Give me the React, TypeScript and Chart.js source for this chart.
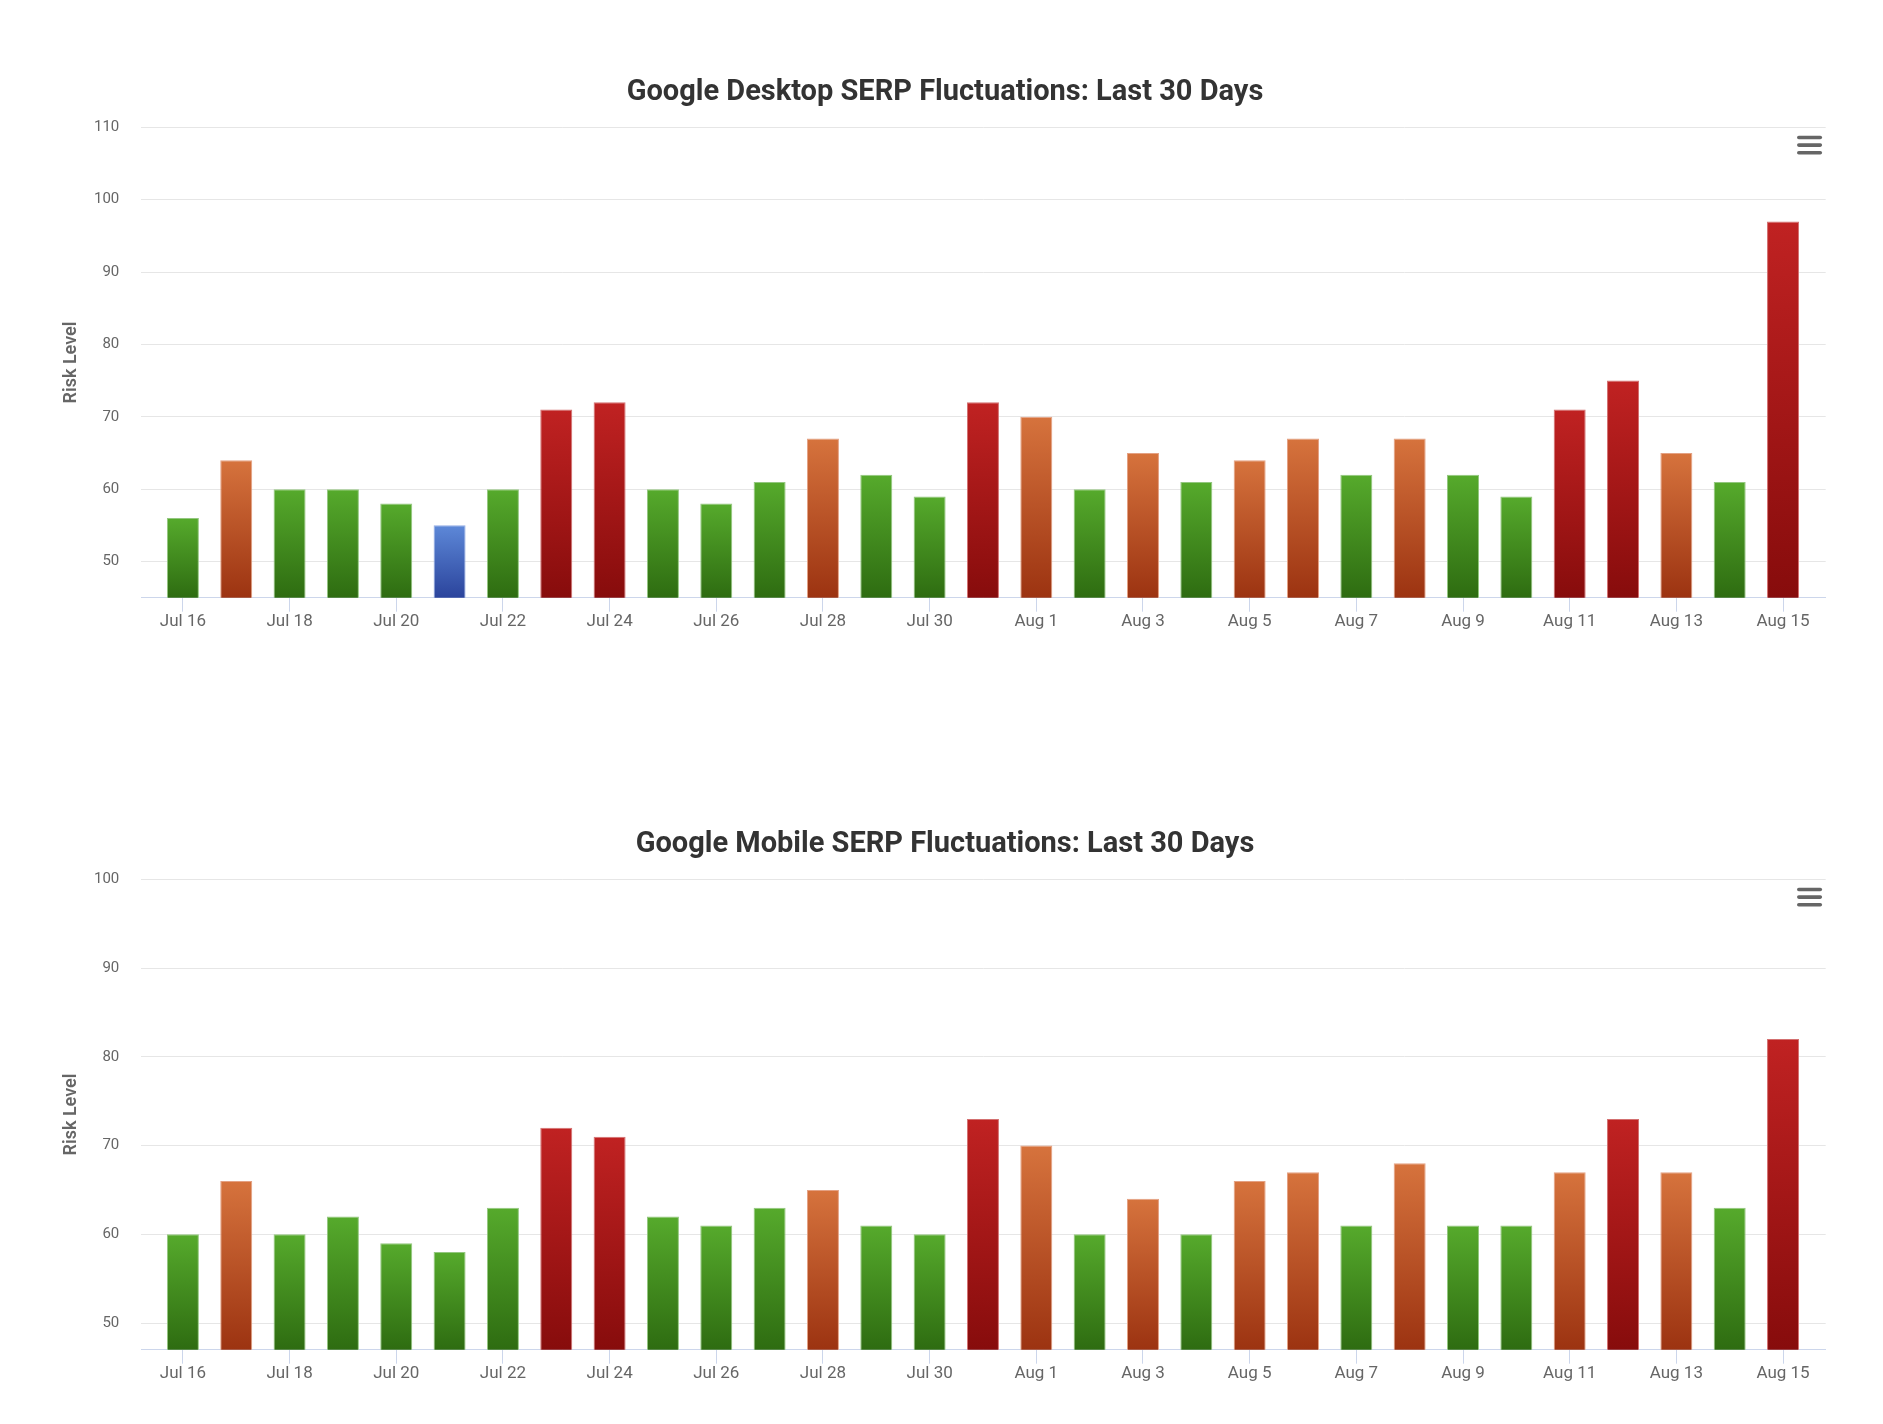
import React, { useEffect, useRef } from 'react';
import { Chart, registerables } from 'chart.js';

Chart.register(...registerables);

// ---------- data ----------
const dates = [
  'Jul 16', 'Jul 17', 'Jul 18', 'Jul 19', 'Jul 20', 'Jul 21', 'Jul 22', 'Jul 23',
  'Jul 24', 'Jul 25', 'Jul 26', 'Jul 27', 'Jul 28', 'Jul 29', 'Jul 30', 'Jul 31',
  'Aug 1', 'Aug 2', 'Aug 3', 'Aug 4', 'Aug 5', 'Aug 6', 'Aug 7', 'Aug 8',
  'Aug 9', 'Aug 10', 'Aug 11', 'Aug 12', 'Aug 13', 'Aug 14', 'Aug 15',
];

const desktopRisk = [
  56, 64, 60, 60, 58, 55, 60, 71, 72, 60, 58, 61, 67, 62, 59, 72,
  70, 60, 65, 61, 64, 67, 62, 67, 62, 59, 71, 75, 65, 61, 97,
];

const mobileRisk = [
  60, 66, 60, 62, 59, 58, 63, 72, 71, 62, 61, 63, 65, 61, 60, 73,
  70, 60, 64, 60, 66, 67, 61, 68, 61, 61, 67, 73, 67, 63, 82,
];

const desktopTitle = 'Google Desktop SERP Fluctuations: Last 30 Days';
const mobileTitle = 'Google Mobile SERP Fluctuations: Last 30 Days';
const yAxisTitle = 'Risk Level';

const desktopYRange = [45, 110];
const mobileYRange = [47, 100];

// ---------- style ----------
const FONT = 'Roboto, "Open Sans", sans-serif';

type Pal = { top: string; bottom: string; border: string };
const PALETTE: Record<string, Pal> = {
  blue: { top: '#5d88d8', bottom: '#2b449c', border: '#94ade4' },
  green: { top: '#56aa2c', bottom: '#2e6c11', border: '#93c77f' },
  orange: { top: '#d6733d', bottom: '#9c3311', border: '#e4a183' },
  red: { top: '#c02222', bottom: '#870c0c', border: '#d37070' },
};

function levelOf(v: number): string {
  if (v <= 55) return 'blue';
  if (v <= 63) return 'green';
  if (v <= 70) return 'orange';
  return 'red';
}

const PLOT_TOP = 127.3;
const PLOT_BOTTOM = 597.7;
const PLOT_LEFT = 141.3;
const PAD_LEFT = 7;
const PLOT_RIGHT_PAD = 57.3;
const TITLE_SIZE = 29;
const TITLE_CENTER = 92.5;

const menuIcon = {
  id: 'menuIcon',
  afterDraw(chart: any) {
    const { ctx, chartArea } = chart;
    if (!chartArea) return;
    ctx.save();
    ctx.strokeStyle = '#666666';
    ctx.lineWidth = 3.6;
    ctx.lineCap = 'round';
    const x0 = chartArea.right - 26.9;
    const x1 = chartArea.right - 5.4;
    [10.2, 17.8, 25.4].forEach((dy) => {
      ctx.beginPath();
      ctx.moveTo(x0, chartArea.top + dy);
      ctx.lineTo(x1, chartArea.top + dy);
      ctx.stroke();
    });
    ctx.restore();
  },
};

function RiskChart(props: { title: string; values: number[]; yRange: number[]; height: number }) {
  const { title, values, yRange, height } = props;
  const ref = useRef<HTMLCanvasElement | null>(null);

  useEffect(() => {
    const canvas = ref.current;
    if (!canvas) return;
    const titleLine = TITLE_SIZE * 1.2;
    const titleTopPad = TITLE_CENTER - titleLine / 2;
    const chart = new Chart(canvas, {
      type: 'bar',
      data: {
        datasets: [
          {
            data: values.map((v, i) => ({ x: i, y: v })),
            backgroundColor: (c: any) => {
              const v = values[c.dataIndex] ?? 60;
              const pal = PALETTE[levelOf(v)];
              const area = c.chart.chartArea;
              if (!area || c.type !== 'data') return pal.top;
              const yTop = c.chart.scales.y.getPixelForValue(v);
              const g = c.chart.ctx.createLinearGradient(0, yTop, 0, area.bottom);
              g.addColorStop(0, pal.top);
              g.addColorStop(1, pal.bottom);
              return g;
            },
            borderColor: (c: any) => {
              const v = values[c.dataIndex] ?? 60;
              return PALETTE[levelOf(v)].border;
            },
            borderWidth: { top: 1, left: 1, right: 1, bottom: 0 },
            borderSkipped: 'start',
            categoryPercentage: 1,
            barPercentage: 0.6,
          } as any,
        ],
      },
      options: {
        animation: false,
        responsive: true,
        maintainAspectRatio: false,
        layout: { padding: { left: PAD_LEFT, right: 0, top: 0, bottom: 0 } },
        plugins: {
          legend: { display: false },
          tooltip: { enabled: false },
          title: {
            display: true,
            text: title,
            color: '#333333',
            font: { family: FONT, size: TITLE_SIZE, weight: 'bold' },
            padding: { top: titleTopPad, bottom: PLOT_TOP - titleTopPad - titleLine },
          },
        },
        scales: {
          x: {
            type: 'linear',
            min: -0.78,
            max: 30.8,
            offset: false,
            bounds: 'ticks',
            ticks: {
              stepSize: 2,
              autoSkip: false,
              maxRotation: 0,
              minRotation: 0,
              padding: 0,
              color: '#666666',
              font: { family: FONT, size: 17 },
              callback: (v: any) => dates[v] ?? '',
            },
            grid: {
              offset: false,
              drawOnChartArea: false,
              drawTicks: true,
              tickLength: 14,
              color: '#ccd6eb',
              lineWidth: 1,
            },
            border: { display: true, color: '#ccd6eb', width: 1 },
            afterBuildTicks: (s: any) => {
              s.ticks = dates
                .map((_, i) => i)
                .filter((i) => i % 2 === 0)
                .map((i) => ({ value: i }));
            },
            afterFit: (s: any) => {
              s.height = height - PLOT_BOTTOM;
            },
          },
          y: {
            min: yRange[0],
            max: yRange[1],
            ticks: {
              stepSize: 10,
              padding: 22,
              color: '#666666',
              font: { family: FONT, size: 15 },
            },
            grid: { color: '#e6e6e6', drawTicks: false, lineWidth: 1 },
            border: { display: false },
            title: {
              display: true,
              text: yAxisTitle,
              color: '#666666',
              font: { family: FONT, size: 18, weight: '600' },
              padding: { top: 71.7 - PAD_LEFT - 10.8, bottom: 0 },
            },
            afterBuildTicks: (s: any) => {
              s.ticks = s.ticks.filter((t: any) => Number.isInteger(t.value) && t.value % 10 === 0);
            },
            afterFit: (s: any) => {
              s.width = PLOT_LEFT - PAD_LEFT;
            },
          },
          yRight: {
            position: 'right',
            display: true,
            min: yRange[0],
            max: yRange[1],
            grid: { display: false, drawTicks: false },
            ticks: { display: false },
            border: { display: false },
            afterFit: (s: any) => {
              s.width = PLOT_RIGHT_PAD;
            },
          },
        },
      } as any,
      plugins: [menuIcon],
    });
    return () => chart.destroy();
  }, [title, values, yRange, height]);

  return (
    <div style={{ position: 'relative', width: 1883, height }}>
      <canvas ref={ref} />
    </div>
  );
}

export default function App() {
  return (
    <div style={{ position: 'absolute', left: 0, top: 0, width: 1883, height: 1424, background: '#ffffff', overflow: 'hidden' }}>
      <RiskChart title={desktopTitle} values={desktopRisk} yRange={desktopYRange} height={752} />
      <RiskChart title={mobileTitle} values={mobileRisk} yRange={mobileYRange} height={672} />
    </div>
  );
}
